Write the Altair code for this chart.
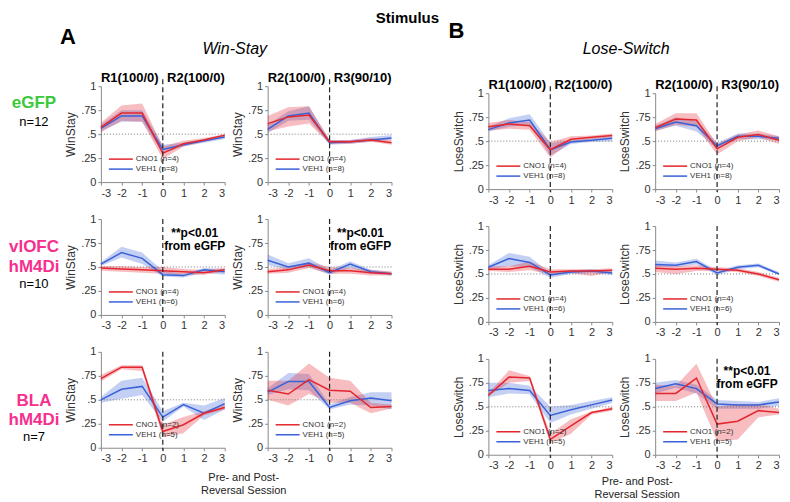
import altair as alt
import pandas as pd

# ---------------- data ----------------
SESSIONS = [-3, -2, -1, 0, 1, 2, 3]
Y_TICKS = [0, 0.25, 0.5, 0.75, 1]
CHANCE = 0.5
SWITCH = 0

N_CNO = [4, 4, 2]
N_VEH = [8, 6, 5]
ROW_NAMES = [["eGFP"], ["vlOFC", "hM4Di"], ["BLA", "hM4Di"]]
ROW_N = ["n=12", "n=10", "n=7"]
PHASES = [["R1(100/0)", "R2(100/0)"], ["R2(100/0)", "R3(90/10)"]]
MEASURES = ["WinStay", "LoseSwitch"]
SIG_TEXT = "**p<0.01\nfrom eGFP"
XTITLE = "Pre- and Post-\nReversal Session"

# Win-Stay, eGFP
WS_E1_CNO = [0.57, 0.72, 0.72, 0.30, 0.40, 0.44, 0.49]
WS_E1_CNO_LO = [0.52, 0.64, 0.63, 0.24, 0.37, 0.42, 0.47]
WS_E1_CNO_HI = [0.62, 0.80, 0.82, 0.37, 0.43, 0.46, 0.50]
WS_E1_VEH = [0.56, 0.69, 0.69, 0.34, 0.39, 0.43, 0.47]
WS_E1_VEH_LO = [0.53, 0.63, 0.63, 0.30, 0.37, 0.41, 0.45]
WS_E1_VEH_HI = [0.60, 0.75, 0.75, 0.39, 0.41, 0.45, 0.49]

WS_E2_CNO = [0.61, 0.68, 0.70, 0.42, 0.42, 0.44, 0.41]
WS_E2_CNO_LO = [0.53, 0.58, 0.61, 0.40, 0.40, 0.42, 0.39]
WS_E2_CNO_HI = [0.69, 0.78, 0.79, 0.44, 0.44, 0.46, 0.44]
WS_E2_VEH = [0.55, 0.69, 0.72, 0.41, 0.42, 0.44, 0.46]
WS_E2_VEH_LO = [0.51, 0.64, 0.65, 0.39, 0.40, 0.42, 0.44]
WS_E2_VEH_HI = [0.60, 0.74, 0.79, 0.44, 0.44, 0.47, 0.49]

# Win-Stay, vlOFC
WS_O1_CNO = [0.49, 0.48, 0.47, 0.46, 0.45, 0.44, 0.47]
WS_O1_CNO_LO = [0.46, 0.45, 0.44, 0.43, 0.42, 0.42, 0.45]
WS_O1_CNO_HI = [0.51, 0.51, 0.50, 0.50, 0.48, 0.47, 0.49]
WS_O1_VEH = [0.53, 0.65, 0.59, 0.42, 0.41, 0.47, 0.45]
WS_O1_VEH_LO = [0.51, 0.60, 0.53, 0.40, 0.39, 0.44, 0.42]
WS_O1_VEH_HI = [0.55, 0.71, 0.65, 0.46, 0.43, 0.49, 0.48]

WS_O2_CNO = [0.45, 0.47, 0.52, 0.46, 0.46, 0.44, 0.43]
WS_O2_CNO_LO = [0.43, 0.44, 0.49, 0.43, 0.43, 0.41, 0.41]
WS_O2_CNO_HI = [0.48, 0.50, 0.55, 0.50, 0.49, 0.47, 0.45]
WS_O2_VEH = [0.57, 0.50, 0.54, 0.44, 0.53, 0.45, 0.43]
WS_O2_VEH_LO = [0.52, 0.47, 0.50, 0.42, 0.49, 0.43, 0.41]
WS_O2_VEH_HI = [0.63, 0.54, 0.59, 0.47, 0.56, 0.47, 0.45]

# Win-Stay, BLA
WS_B1_CNO = [0.72, 0.84, 0.84, 0.17, 0.24, 0.36, 0.42]
WS_B1_CNO_LO = [0.69, 0.82, 0.80, 0.11, 0.15, 0.34, 0.40]
WS_B1_CNO_HI = [0.76, 0.86, 0.86, 0.24, 0.32, 0.38, 0.45]
WS_B1_VEH = [0.50, 0.61, 0.64, 0.32, 0.45, 0.36, 0.46]
WS_B1_VEH_LO = [0.47, 0.51, 0.55, 0.27, 0.43, 0.29, 0.40]
WS_B1_VEH_HI = [0.53, 0.70, 0.73, 0.38, 0.47, 0.44, 0.52]

WS_B2_CNO = [0.60, 0.56, 0.71, 0.60, 0.59, 0.42, 0.43]
WS_B2_CNO_LO = [0.50, 0.44, 0.56, 0.47, 0.47, 0.36, 0.41]
WS_B2_CNO_HI = [0.70, 0.70, 0.88, 0.73, 0.70, 0.47, 0.45]
WS_B2_VEH = [0.58, 0.69, 0.69, 0.42, 0.49, 0.52, 0.49]
WS_B2_VEH_LO = [0.55, 0.61, 0.60, 0.40, 0.45, 0.44, 0.40]
WS_B2_VEH_HI = [0.62, 0.78, 0.77, 0.45, 0.53, 0.58, 0.58]

# Lose-Switch, eGFP
LS_E1_CNO = [0.65, 0.68, 0.66, 0.41, 0.52, 0.54, 0.56]
LS_E1_CNO_LO = [0.61, 0.63, 0.62, 0.33, 0.49, 0.52, 0.54]
LS_E1_CNO_HI = [0.69, 0.72, 0.70, 0.49, 0.55, 0.56, 0.58]
LS_E1_VEH = [0.62, 0.69, 0.72, 0.41, 0.49, 0.51, 0.53]
LS_E1_VEH_LO = [0.60, 0.65, 0.67, 0.35, 0.47, 0.49, 0.50]
LS_E1_VEH_HI = [0.65, 0.74, 0.78, 0.48, 0.51, 0.53, 0.55]

LS_E2_CNO = [0.64, 0.73, 0.72, 0.42, 0.54, 0.57, 0.51]
LS_E2_CNO_LO = [0.60, 0.67, 0.65, 0.36, 0.50, 0.54, 0.47]
LS_E2_CNO_HI = [0.68, 0.79, 0.79, 0.47, 0.57, 0.61, 0.55]
LS_E2_VEH = [0.63, 0.70, 0.66, 0.45, 0.55, 0.55, 0.53]
LS_E2_VEH_LO = [0.61, 0.66, 0.60, 0.42, 0.52, 0.52, 0.51]
LS_E2_VEH_HI = [0.66, 0.75, 0.71, 0.48, 0.58, 0.58, 0.55]

# Lose-Switch, vlOFC
LS_O1_CNO = [0.55, 0.55, 0.58, 0.52, 0.53, 0.53, 0.54]
LS_O1_CNO_LO = [0.53, 0.52, 0.54, 0.50, 0.51, 0.48, 0.52]
LS_O1_CNO_HI = [0.58, 0.58, 0.63, 0.55, 0.55, 0.55, 0.56]
LS_O1_VEH = [0.57, 0.66, 0.62, 0.49, 0.52, 0.53, 0.51]
LS_O1_VEH_LO = [0.55, 0.58, 0.57, 0.46, 0.50, 0.51, 0.49]
LS_O1_VEH_HI = [0.59, 0.72, 0.68, 0.51, 0.54, 0.55, 0.53]

LS_O2_CNO = [0.56, 0.55, 0.56, 0.55, 0.54, 0.50, 0.44]
LS_O2_CNO_LO = [0.52, 0.50, 0.53, 0.53, 0.52, 0.48, 0.42]
LS_O2_CNO_HI = [0.59, 0.58, 0.59, 0.57, 0.56, 0.52, 0.46]
LS_O2_VEH = [0.60, 0.59, 0.63, 0.51, 0.57, 0.59, 0.50]
LS_O2_VEH_LO = [0.57, 0.57, 0.60, 0.49, 0.55, 0.57, 0.49]
LS_O2_VEH_HI = [0.64, 0.62, 0.66, 0.53, 0.59, 0.61, 0.52]

# Lose-Switch, BLA
LS_B1_CNO = [0.62, 0.81, 0.80, 0.16, 0.30, 0.44, 0.48]
LS_B1_CNO_LO = [0.61, 0.75, 0.77, 0.12, 0.22, 0.42, 0.46]
LS_B1_CNO_HI = [0.64, 0.88, 0.82, 0.22, 0.37, 0.45, 0.50]
LS_B1_VEH = [0.67, 0.69, 0.67, 0.41, 0.47, 0.52, 0.57]
LS_B1_VEH_LO = [0.60, 0.64, 0.63, 0.33, 0.42, 0.48, 0.54]
LS_B1_VEH_HI = [0.75, 0.75, 0.72, 0.50, 0.52, 0.56, 0.60]

LS_B2_CNO = [0.64, 0.64, 0.80, 0.32, 0.35, 0.46, 0.44]
LS_B2_CNO_LO = [0.56, 0.56, 0.65, 0.14, 0.16, 0.39, 0.42]
LS_B2_CNO_HI = [0.73, 0.72, 0.95, 0.50, 0.53, 0.53, 0.48]
LS_B2_VEH = [0.69, 0.74, 0.69, 0.53, 0.52, 0.52, 0.55]
LS_B2_VEH_LO = [0.64, 0.70, 0.64, 0.48, 0.48, 0.48, 0.51]
LS_B2_VEH_HI = [0.75, 0.78, 0.73, 0.57, 0.56, 0.55, 0.59]

# ---------------- style ----------------
W, H = 124, 96
DY_RIGHT = 7          # Lose-Switch panels sit a little lower
RED = "#e3262d"
BLUE = "#3a62d8"
GREEN = "#3bc93b"
PINK = "#f72f8e"
FONT = "Liberation Sans"

COLOR = alt.Color("group:N", scale=alt.Scale(domain=["CNO1", "VEH1"], range=[RED, BLUE]), legend=None)
Y_LABELS = "datum.value == 0 ? '0' : datum.value == 1 ? '1' : replace(format(datum.value, '.2~f'), '0.', '.')"


def make_df(series):
    cno, cno_lo, cno_hi, veh, veh_lo, veh_hi = series
    rows = []
    for g, m, lo, hi in [("VEH1", veh, veh_lo, veh_hi), ("CNO1", cno, cno_lo, cno_hi)]:
        for s, a, b, c in zip(SESSIONS, m, lo, hi):
            rows.append({"session": s, "group": g, "mean": a, "lo": b, "hi": c})
    return pd.DataFrame(rows)


def xenc(field):
    return alt.X(field, scale=alt.Scale(domain=[SESSIONS[0], SESSIONS[-1]], nice=False),
                 axis=alt.Axis(values=SESSIONS, title=None, labelExpr="'' + datum.value"))


def yenc(field, title, dy):
    if dy:
        sc = alt.Scale(domain=[Y_TICKS[0], Y_TICKS[-1]], nice=False, range=[H + dy, dy])
    else:
        sc = alt.Scale(domain=[Y_TICKS[0], Y_TICKS[-1]], nice=False)
    return alt.Y(field, scale=sc, axis=alt.Axis(values=Y_TICKS, title=title, labelExpr=Y_LABELS))


def text(txt, x, y, size, weight="normal", style="normal", color="#000", align="center",
         line_height=None, baseline="alphabetic"):
    kw = {}
    if line_height is not None:
        kw["lineHeight"] = line_height
        kw["lineBreak"] = "\n"
    return alt.Chart(pd.DataFrame({"t": [txt]})).mark_text(
        font=FONT, fontSize=size, fontWeight=weight, fontStyle=style, color=color,
        align=align, baseline=baseline, **kw
    ).encode(text="t:N", x=alt.value(x), y=alt.value(y))


def anchor(x, y):
    # invisible, near zero-extent mark (used for spacing only)
    return alt.Chart(pd.DataFrame({"t": [0]})).mark_point(opacity=0, size=1, strokeWidth=0).encode(
        x=alt.value(x), y=alt.value(y))


def spacer(w, h):
    return anchor(1, h).properties(width=w, height=h)


def panel(series, measure, row, col, dy=0, sig=None, row_label=None, xtitle=None):
    df = make_df(series)
    base = alt.Chart(df)
    band = base.mark_area(opacity=0.3).encode(
        x=xenc("session:Q"), y=yenc("lo:Q", measure, dy), y2="hi:Q", color=COLOR)
    line = base.mark_line(strokeWidth=1.5).encode(
        x=xenc("session:Q"), y=yenc("mean:Q", measure, dy), color=COLOR)
    chance = alt.Chart(pd.DataFrame({"v": [CHANCE]})).mark_rule(
        color="#777", strokeDash=[1, 2], strokeWidth=1).encode(y=yenc("v:Q", measure, dy))
    top = (-7 if row == 0 else 0) + dy
    switch = alt.Chart(pd.DataFrame({"v": [SWITCH]})).mark_rule(
        color="#222", strokeDash=[5, 3], strokeWidth=1.2).encode(
        x=xenc("v:Q"), y=alt.value(top), y2=alt.value(H + dy + 3))

    labels = [f"CNO1 (n={N_CNO[row]})", f"VEH1 (n={N_VEH[row]})"]
    legs = []
    for i, (lab, colr) in enumerate(zip(labels, [RED, BLUE])):
        yy = 73 + 10 * i + dy
        d = pd.DataFrame({"t": [lab]})
        legs.append(alt.Chart(d).mark_rule(color=colr, strokeWidth=1.5).encode(
            x=alt.value(8), x2=alt.value(32), y=alt.value(yy)))
        legs.append(alt.Chart(d).mark_text(font=FONT, fontSize=8, color="#333", align="left",
                                           baseline="middle").encode(
            text="t:N", x=alt.value(35), y=alt.value(yy)))

    layers = [band, chance, line, *legs, switch]

    if row == 0:
        p = PHASES[col % 2]
        layers.append(text(p[0], 0, -4 + dy, 13, "bold", align="left"))
        layers.append(text(p[1], W, -4 + dy, 13, "bold", align="right"))
    if sig is not None:
        layers.append(text(SIG_TEXT, sig[0], sig[1] + dy, 12, "bold", line_height=13.5))
    if row_label is not None:
        for t, (y, size, weight, colr) in row_label:
            layers.append(text(t, -67, y, size, weight, color=colr))
    if xtitle is not None:
        layers.append(text(XTITLE, xtitle[0], xtitle[1], 11, color="#222", line_height=13))

    return alt.layer(*layers).properties(width=W, height=H + dy)


WS = [
    [WS_E1_CNO, WS_E1_CNO_LO, WS_E1_CNO_HI, WS_E1_VEH, WS_E1_VEH_LO, WS_E1_VEH_HI],
    [WS_E2_CNO, WS_E2_CNO_LO, WS_E2_CNO_HI, WS_E2_VEH, WS_E2_VEH_LO, WS_E2_VEH_HI],
    [WS_O1_CNO, WS_O1_CNO_LO, WS_O1_CNO_HI, WS_O1_VEH, WS_O1_VEH_LO, WS_O1_VEH_HI],
    [WS_O2_CNO, WS_O2_CNO_LO, WS_O2_CNO_HI, WS_O2_VEH, WS_O2_VEH_LO, WS_O2_VEH_HI],
    [WS_B1_CNO, WS_B1_CNO_LO, WS_B1_CNO_HI, WS_B1_VEH, WS_B1_VEH_LO, WS_B1_VEH_HI],
    [WS_B2_CNO, WS_B2_CNO_LO, WS_B2_CNO_HI, WS_B2_VEH, WS_B2_VEH_LO, WS_B2_VEH_HI],
]
LS = [
    [LS_E1_CNO, LS_E1_CNO_LO, LS_E1_CNO_HI, LS_E1_VEH, LS_E1_VEH_LO, LS_E1_VEH_HI],
    [LS_E2_CNO, LS_E2_CNO_LO, LS_E2_CNO_HI, LS_E2_VEH, LS_E2_VEH_LO, LS_E2_VEH_HI],
    [LS_O1_CNO, LS_O1_CNO_LO, LS_O1_CNO_HI, LS_O1_VEH, LS_O1_VEH_LO, LS_O1_VEH_HI],
    [LS_O2_CNO, LS_O2_CNO_LO, LS_O2_CNO_HI, LS_O2_VEH, LS_O2_VEH_LO, LS_O2_VEH_HI],
    [LS_B1_CNO, LS_B1_CNO_LO, LS_B1_CNO_HI, LS_B1_VEH, LS_B1_VEH_LO, LS_B1_VEH_HI],
    [LS_B2_CNO, LS_B2_CNO_LO, LS_B2_CNO_HI, LS_B2_VEH, LS_B2_VEH_LO, LS_B2_VEH_HI],
]

ROW_LABEL_SPECS = [
    [(ROW_NAMES[0][0], (22, 17, "bold", GREEN)), (ROW_N[0], (40, 13, "normal", "#000"))],
    [(ROW_NAMES[1][0], (33, 17, "bold", PINK)), (ROW_NAMES[1][1], (53, 17, "bold", PINK)),
     (ROW_N[1], (69, 13, "normal", "#000"))],
    [(ROW_NAMES[2][0], (54, 17, "bold", PINK)), (ROW_NAMES[2][1], (73, 17, "bold", PINK)),
     (ROW_N[2], (89, 13, "normal", "#000"))],
]

HEADER_H = 45
GAP_W = 11

header_a = alt.layer(
    anchor(307, -2),
    text("Stimulus", 307, 0, 15, "bold", baseline="top"),
    text("A", -33, 33, 22, "bold"),
    text("Win-Stay", 134, 43, 16, style="italic"),
).properties(width=W, height=HEADER_H)
header_b = alt.layer(
    text("B", -32, 27, 22, "bold"),
    text("Lose-Switch", 138, 43, 16, style="italic"),
).properties(width=W, height=HEADER_H)

cells = [header_a, spacer(W, 1), spacer(GAP_W, 1), header_b, spacer(W, 1)]
for r in range(3):
    cells.append(panel(WS[2 * r], MEASURES[0], r, 0,
                       sig=(94, 18) if r == 1 else None,
                       row_label=ROW_LABEL_SPECS[r],
                       xtitle=(143, 129) if r == 2 else None))
    cells.append(panel(WS[2 * r + 1], MEASURES[0], r, 1, sig=(93, 18) if r == 1 else None))
    cells.append(spacer(GAP_W, 1))
    cells.append(panel(LS[2 * r], MEASURES[1], r, 2, dy=DY_RIGHT,
                       xtitle=(149, 133) if r == 2 else None))
    cells.append(panel(LS[2 * r + 1], MEASURES[1], r, 3, dy=DY_RIGHT,
                       sig=(92, 16) if r == 2 else None))

chart = alt.concat(
    *cells, columns=5, spacing=alt.RowColnumber(row=30, column=43), bounds="flush"
).resolve_scale(x="independent", y="independent").properties(
    padding={"left": 0, "top": 0, "right": 0, "bottom": 0}
).configure_view(stroke=None).configure_axis(
    domainColor="#8a8a8a", tickColor="#8a8a8a", tickSize=3, grid=False,
    labelFont=FONT, labelFontSize=11, labelColor="#333", labelPadding=2,
    titleFont=FONT, titleFontSize=12, titleFontWeight="normal", titleColor="#333",
    titlePadding=3,
)

chart.save("out.html", embed_options={"renderer": "svg", "actions": False})
